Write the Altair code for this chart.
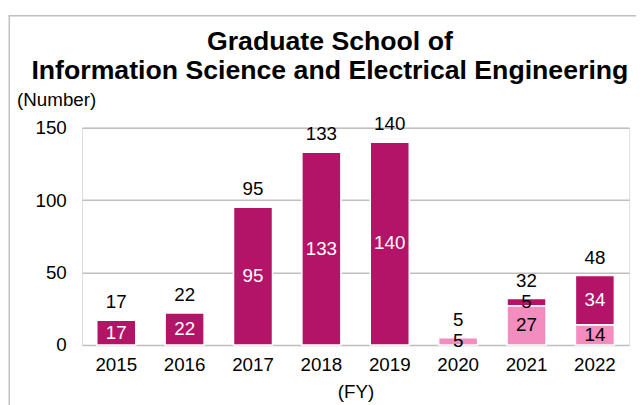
import altair as alt
import pandas as pd

years = ["2015", "2016", "2017", "2018", "2019", "2020", "2021", "2022"]
series_dark = [17, 22, 95, 133, 140, 0, 5, 34]
series_light = [0, 0, 0, 0, 0, 5, 27, 14]
y_ticks = [0, 50, 100, 150]
title_lines = ["Graduate School of", "Information Science and Electrical Engineering"]

rows = []
for i, yr in enumerate(years):
    rows.append({"year": yr, "series": "light", "ord": 0, "value": series_light[i]})
    rows.append({"year": yr, "series": "dark", "ord": 1, "value": series_dark[i]})
df = pd.DataFrame(rows)

DARK = "#B41468"
LIGHT = "#F48DBF"
GRID = "#BFBFBF"
FONT = "Arial, Liberation Sans, sans-serif"


def xenc():
    return alt.X(
        "year:N",
        sort=years,
        scale=alt.Scale(paddingInner=0.43, paddingOuter=0.215),
        axis=alt.Axis(
            title="(FY)", labelAngle=0, ticks=False, tickSize=0, domain=False,
            labelPadding=11, labelFontSize=19, labelColor="black", labelFont=FONT,
            titleFontSize=19, titleFontWeight="normal", titleColor="black",
            titleFont=FONT, titlePadding=8, grid=False,
        ),
    )


def yenc(field):
    return alt.Y(
        field,
        scale=alt.Scale(domain=[0, 150], nice=False),
        axis=alt.Axis(
            values=y_ticks, title="(Number)", ticks=False, tickSize=0, domain=False,
            labelPadding=16, labelFontSize=19, labelColor="black", labelFont=FONT,
            grid=True, gridColor=GRID, gridWidth=1.5,
            titleAngle=0, titleAlign="left", titleBaseline="alphabetic",
            titleX=-66.3, titleY=-22.7, titleFontSize=19, titleFontWeight="normal",
            titleColor="black", titleFont=FONT,
        ),
    )


stacked = (
    alt.Chart(df)
    .transform_filter("datum.value > 0")
    .transform_stack(
        stack="value", groupby=["year"],
        sort=[alt.SortField("ord", order="ascending")], as_=["v0", "v1"],
    )
    .transform_calculate(
        mid="(datum.v0 + datum.v1) / 2",
        tc="datum.series == 'dark' && datum.value >= 10 ? 'white' : 'black'",
    )
)

bars = stacked.mark_bar(stroke="white", strokeWidth=1.5).encode(
    x=xenc(),
    y=yenc("v1:Q"),
    y2="v0:Q",
    color=alt.Color(
        "series:N", scale=alt.Scale(domain=["light", "dark"], range=[LIGHT, DARK]),
        legend=None,
    ),
)

inner = stacked.mark_text(fontSize=19, font=FONT, baseline="middle").encode(
    x=xenc(),
    y=yenc("mid:Q"),
    text="value:Q",
    color=alt.Color("tc:N", scale=None),
)

totals = (
    alt.Chart(df)
    .transform_aggregate(total="sum(value)", groupby=["year"])
    .mark_text(fontSize=19, font=FONT, baseline="alphabetic", dy=-12, color="black")
    .encode(x=xenc(), y=yenc("total:Q"), text="total:Q")
)

frame_df = pd.DataFrame({"k": [0]})
border_v = alt.Chart(frame_df).mark_rule(color=GRID, strokeWidth=1.5).encode(
    x=alt.value(-73.7), y=alt.value(-113.4), y2=alt.value(320)
)
border_h = alt.Chart(frame_df).mark_rule(color=GRID, strokeWidth=1.5).encode(
    x=alt.value(-74.5), x2=alt.value(620), y=alt.value(-113.4), y2=alt.value(-113.4)
)

chart = (
    alt.layer(border_v, border_h, bars, inner, totals)
    .properties(
        width=554,
        height=220,
        padding={"left": 75, "top": 118.7, "right": 7, "bottom": 58},
        autosize=alt.AutoSizeParams(type="none"),
        title=alt.TitleParams(
            text=title_lines, fontSize=27, font=FONT, fontWeight="bold",
            color="black", anchor="middle", dx=-26, offset=0, baseline="bottom",
            lineHeight=30, dy=98,
        ),
    )
    .configure_view(stroke=None)
    .configure(background="white")
)

chart.save("out.html", embed_options={"renderer": "svg", "actions": False})
